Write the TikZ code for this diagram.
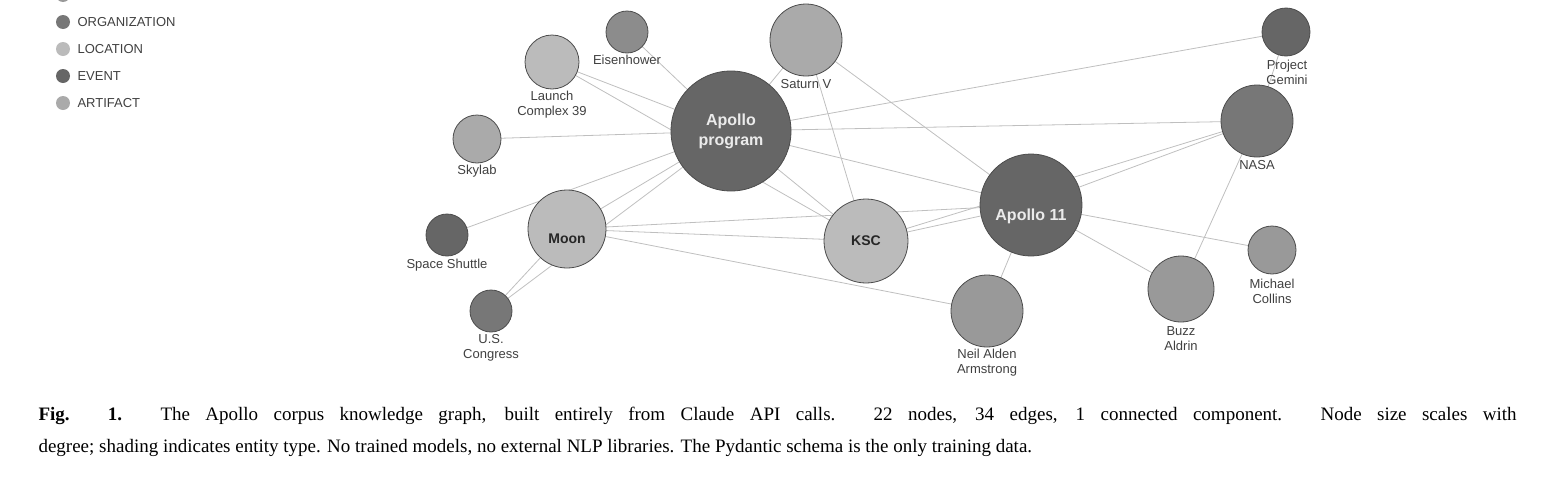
\documentclass[tikz,border=0pt]{standalone}
\usepackage{fontspec}
\setmainfont{Liberation Serif}
\setsansfont{Liberation Sans}
\usepackage{tikz}

\definecolor{cevent}{HTML}{666666}
\definecolor{corg}{HTML}{777777}
\definecolor{cloc}{HTML}{BBBBBB}
\definecolor{cart}{HTML}{AAAAAA}
\definecolor{cpers}{HTML}{999999}
\definecolor{ceis}{HTML}{8C8C8C}

\begin{document}
\begin{tikzpicture}[x=1pt,y=-1pt,
    ent/.style={draw=black!70,circle,inner sep=0pt,line width=0.8pt},
    lbl/.style={font=\sffamily\fontsize{13}{15}\selectfont,text=black!75,align=center},
    big/.style={font=\sffamily\bfseries\fontsize{16}{20}\selectfont,text=white!92!black,align=center},
    mid/.style={font=\sffamily\bfseries\fontsize{14}{17}\selectfont,text=black!85,align=center},
    link/.style={draw=black!25,line width=0.8pt},
    key/.style={circle,inner sep=0pt,minimum size=14pt}]
  \useasboundingbox (0,0) rectangle (1548,485);

  % legend
  \node[key,fill=cpers] (kp) at (63,-5) {};
  \node[key,fill=corg] (ko) at (63,22) {};
  \node[key,fill=cloc] (kl) at (63,49) {};
  \node[key,fill=cevent] (ke) at (63,76) {};
  \node[key,fill=cart] (ka) at (63,103) {};
  \node[lbl,anchor=west] at (74,-5) {PERSON};
  \node[lbl,anchor=west] at (74,22) {ORGANIZATION};
  \node[lbl,anchor=west] at (74,49) {LOCATION};
  \node[lbl,anchor=west] at (74,76) {EVENT};
  \node[lbl,anchor=west] at (74,103) {ARTIFACT};

  % centres
  \coordinate (ap) at (731,131);
  \coordinate (a11) at (1031,205);
  \coordinate (ksc) at (866,241);
  \coordinate (moon) at (567,229);
  \coordinate (sat) at (806,40);
  \coordinate (nasa) at (1257,121);
  \coordinate (neil) at (987,311);
  \coordinate (buzz) at (1181,289);
  \coordinate (lc) at (552,62);
  \coordinate (sky) at (477,139);
  \coordinate (mc) at (1272,250);
  \coordinate (gem) at (1286,32);
  \coordinate (eis) at (627,32);
  \coordinate (shut) at (447,235);
  \coordinate (cong) at (491,311);

  % links
  \foreach \s/\t in {eis/ap,lc/ap,lc/ksc,sat/ap,sat/ksc,sat/a11,sky/ap,ap/gem,ap/nasa,
      ap/a11,ap/ksc,shut/ap,moon/ap,cong/ap,cong/moon,moon/ksc,moon/a11,ksc/a11,
      ksc/nasa,moon/neil,a11/nasa,nasa/gem,nasa/buzz,a11/mc,a11/buzz,a11/neil}
    \draw[link] (\s) -- (\t);

  % entities
  \foreach \n/\c/\d in {ap/cevent/120,a11/cevent/102,ksc/cloc/84,moon/cloc/78,sat/cart/72,
      nasa/corg/72,neil/cpers/72,buzz/cpers/66,lc/cloc/54,sky/cart/48,mc/cpers/48,
      gem/cevent/48,eis/ceis/42,shut/cevent/42,cong/corg/42}
    \node[ent,fill=\c,minimum size=\d pt] (\n-n) at (\n) {};

  % labels
  \node[big] at (ap) {Apollo\\program};
  \node[big] at ([yshift=-11pt]a11) {Apollo 11};
  \node[mid] at (ksc) {KSC};
  \node[mid] at ([yshift=-10pt]moon) {Moon};
  \node[lbl] at (806,84) {Saturn V};
  \node[lbl] at (627,60) {Eisenhower};
  \node[lbl] at (552,105) {Launch\\Complex 39};
  \node[lbl] at (477,171) {Skylab};
  \node[lbl] at (447,265) {Space Shuttle};
  \node[lbl] at (491,348) {U.S.\\Congress};
  \node[lbl] at (987,363) {Neil Alden\\Armstrong};
  \node[lbl] at (1181,339) {Buzz\\Aldrin};
  \node[lbl] at (1272,291) {Michael\\Collins};
  \node[lbl] at (1287,72) {Project\\Gemini};
  \node[lbl] at (1257,165) {NASA};

  % caption
  \node[anchor=base west,font=\fontsize{19}{23}\selectfont] (cap1) at (35,420)
    {\makebox[1478pt][s]{\textbf{Fig. 1.} The Apollo corpus knowledge graph, built entirely from Claude API calls. 22 nodes, 34 edges, 1 connected component. Node size scales with}};
  \node[anchor=base west,font=\fontsize{19}{23}\selectfont] (cap2) at (35,452)
    {degree; shading indicates entity type. No trained models, no external NLP libraries. The Pydantic schema is the only training data.};
\end{tikzpicture}
\end{document}
